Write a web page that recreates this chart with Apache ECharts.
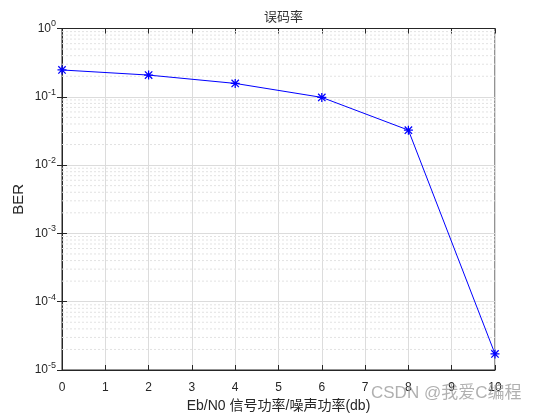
<!DOCTYPE html>
<html><head><meta charset="utf-8">
<script src="https://cdn.jsdelivr.net/npm/echarts@6/dist/echarts.min.js"></script>
<style>html,body{margin:0;padding:0;background:#fff}#c{width:546px;height:414px}</style>
</head><body><div id="c"></div>
<script>
const ebn0 = [0, 2, 4, 6, 8, 10];
const ber = [0.247, 0.208, 0.157, 0.098, 0.0325, 1.72e-5];
const xTicks = [0,1,2,3,4,5,6,7,8,9,10];
const yDecades = [-5,-4,-3,-2,-1,0];
const minorMult = [2,3,4,5,6,7,8,9];
const titleText = '误码率';
const xLabel = 'Eb/N0 信号功率/噪声功率(db)';
const yLabel = 'BER';
const watermark = 'CSDN @我爱C编程';

const minorData = [];
yDecades.slice(0,-1).forEach(d => minorMult.forEach(k => {
  const v = k*Math.pow(10,d);
  minorData.push([xTicks[0], v], [xTicks[xTicks.length-1], v], [xTicks[0], '-']);
}));

const font = '"Liberation Sans", Arial, sans-serif';
const cjk = '"Liberation Sans", "Noto Sans CJK SC", sans-serif';
const ax = '#262626';
const star = 'path://M4.3 0 H5.7 V10 H4.3 Z M0 4.3 H10 V5.7 H0 Z M1.4 0.4 L9.6 8.6 L8.6 9.6 L0.4 1.4 Z M8.6 0.4 L9.6 1.4 L1.4 9.6 L0.4 8.6 Z';

const chart = echarts.init(document.getElementById('c'), null, {renderer:'canvas'});
chart.setOption({
  animation: false,
  title: {text: titleText, left: 278.5, textAlign: 'center', top: 6,
    textStyle: {fontFamily: cjk, fontSize: 13, fontWeight: 'normal', color: '#333'}},
  grid: {left: 62, right: 51, top: 28.5, bottom: 44, show: true, borderColor: ax, borderWidth: 1,
    backgroundColor: '#fff', containLabel: false, outerBoundsMode: 'none'},
  xAxis: [{type: 'value', min: 0, max: 10, interval: 1,
    axisLine: {show: true, lineStyle: {color: ax}},
    axisTick: {inside: true, length: 5, lineStyle: {color: ax}},
    axisLabel: {color: ax, fontFamily: font, fontSize: 12, margin: 12},
    splitLine: {show: true, lineStyle: {color: '#dcdcdc'}},
    name: xLabel, nameLocation: 'middle', nameGap: 29, nameMoveOverlap: false,
    nameTextStyle: {fontFamily: cjk, fontSize: 14, color: ax}},
   {type: 'value', position: 'top', min: 0, max: 10, interval: 1,
    axisLine: {show: true, lineStyle: {color: ax}},
    axisTick: {inside: true, length: 5, lineStyle: {color: ax}},
    axisLabel: {show: false}, splitLine: {show: false}}],
  yAxis: [{type: 'log', logBase: 10, min: 1e-5, max: 1, interval: 1,
    axisLine: {show: true, lineStyle: {color: ax}},
    axisTick: {inside: true, length: 5, lineStyle: {color: ax}},
    axisLabel: {fontFamily: font, color: ax, margin: 6,
      formatter: v => '{b|10}{s|' + Math.round(Math.log10(v)) + '}',
      rich: {b: {fontFamily: font, fontSize: 12, color: ax},
             s: {fontFamily: font, fontSize: 9, color: ax, padding: [0,0,9,0]}}},
    splitLine: {show: true, lineStyle: {color: '#dcdcdc'}},
    name: yLabel, nameLocation: 'middle', nameGap: 36, nameRotate: 90, nameMoveOverlap: false,
    nameTextStyle: {fontFamily: font, fontSize: 15, color: ax}},
   {type: 'log', logBase: 10, min: 1e-5, max: 1, position: 'right',
    axisLine: {show: true, lineStyle: {color: ax}},
    axisTick: {inside: true, length: 5, lineStyle: {color: ax}},
    axisLabel: {show: false}, splitLine: {show: false}}],
  graphic: [{type: 'text', left: 371, top: 385, z: 100,
    style: {text: watermark, font: '17px ' + cjk, fill: 'rgba(150,150,150,0.75)'}}],
  series: [
    {type: 'line', data: minorData, silent: true, symbol: 'none', connectNulls: false,
     lineStyle: {color: '#e2e2e2', type: [2,2], width: 1}, z: 1},
    {type: 'line', data: ebn0.map((x,i)=>[x, ber[i]]),
     lineStyle: {color: '#0000ff', width: 1}, itemStyle: {color: '#0000ff'},
     symbol: star, symbolSize: 9, showSymbol: true, z: 10}
  ]
});
</script></body></html>
